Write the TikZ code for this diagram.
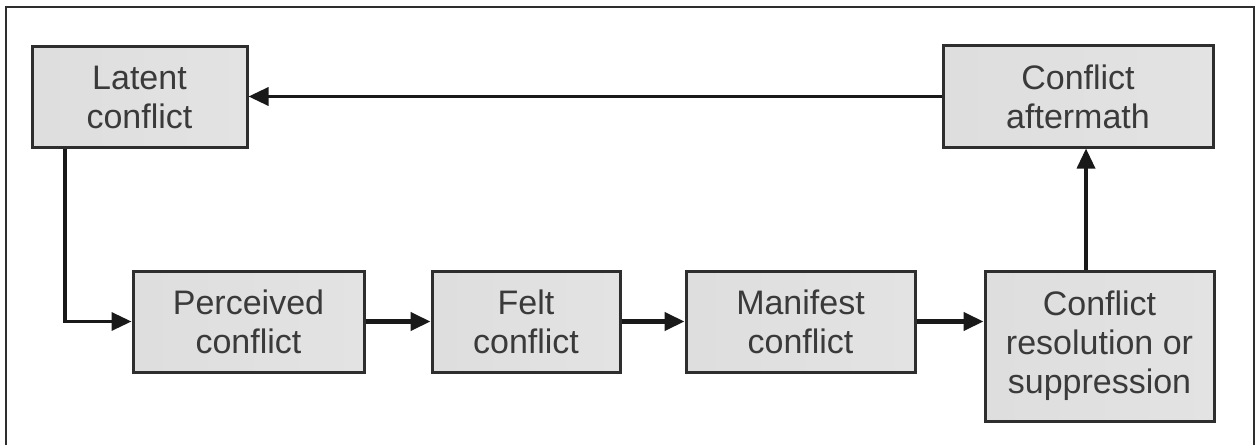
\documentclass[tikz,border=0pt]{standalone}
\usepackage{fontspec}
\setmainfont{Liberation Sans}
\usetikzlibrary{arrows.meta,calc}
\definecolor{ink}{HTML}{2E2E2E}
\definecolor{txt}{HTML}{3A3A3A}
\tikzset{
  stage/.style={draw=ink, line width=3pt, align=center, inner sep=0pt,
    shading=axis, left color=black!13, middle color=black!3, right color=black!11,
    text=txt, font=\fontsize{34}{39}\selectfont},
  flow/.style={draw=black!90, line width=4.2pt, -{Triangle[length=20pt,width=18pt]}},
  loop/.style={draw=black!90, line width=3.4pt, -{Triangle[length=20pt,width=18pt]}},
}
\begin{document}
\begin{tikzpicture}[x=1pt,y=-1pt]
  \useasboundingbox (0,0) rectangle (1257,444);
  % outer frame
  \draw[ink, line width=2pt] (5.5,446) -- (5.5,7.5) -- (1253.5,7.5) -- (1253.5,446);

  % stages
  \node[stage, minimum width=215pt, minimum height=100pt] (lat) at (139.5,97) {Latent\\conflict};
  \node[stage, minimum width=270pt, minimum height=101pt] (aft) at (1078,96.5) {Conflict\\aftermath};
  \node[stage, minimum width=231pt, minimum height=101pt] (per) at (248.5,321.5) {Perceived\\conflict};
  \node[stage, minimum width=188pt, minimum height=101pt] (fel) at (526,321.5) {Felt\\conflict};
  \node[stage, minimum width=229pt, minimum height=101pt] (man) at (800.5,321.5) {Manifest\\conflict};
  \node[stage, minimum width=229pt, minimum height=150pt] (res) at (1099.5,346) {Conflict\\resolution or\\suppression};

  % guide positions for the vertical connectors
  \coordinate (lx) at (65,0);
  \coordinate (vx) at (1086,0);

  % connectors
  \draw[loop] (lat.south -| lx) |- (per.west);
  \draw[flow] (per.east) -- (fel.west);
  \draw[flow] (fel.east) -- (man.west);
  \draw[flow] (man.east) -- (man.east -| res.west);
  \draw[loop] (res.north -| vx) -- (aft.south -| vx);
  \draw[loop] (aft.west) -- (aft.west -| lat.east);
\end{tikzpicture}
\end{document}
